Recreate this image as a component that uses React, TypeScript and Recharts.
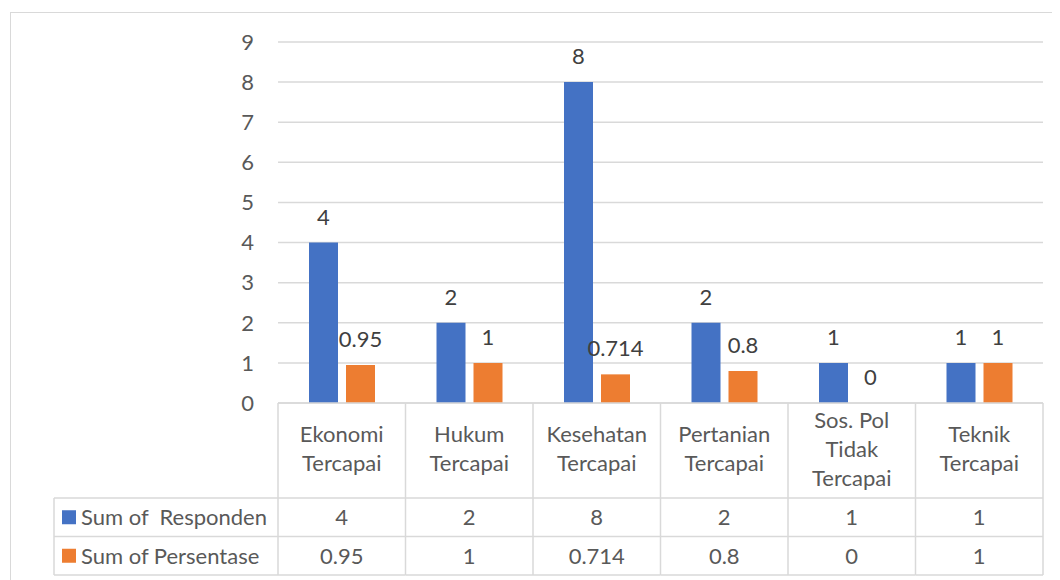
import React from "react";
import { BarChart, Bar, XAxis, YAxis, CartesianGrid, LabelList } from "recharts";

const categories = [
  "Ekonomi\nTercapai",
  "Hukum\nTercapai",
  "Kesehatan\nTercapai",
  "Pertanian\nTercapai",
  "Sos. Pol\nTidak\nTercapai",
  "Teknik\nTercapai",
];
const responden = [4, 2, 8, 2, 1, 1];
const persentase = [0.95, 1, 0.714, 0.8, 0, 1];
const seriesNames = ["Sum of  Responden", "Sum of Persentase"];
const seriesColors = ["#4472C4", "#ED7D31"];
const yTicks = [0, 1, 2, 3, 4, 5, 6, 7, 8, 9];

const data = categories.map((name, i) => ({
  name,
  responden: responden[i],
  persentase: persentase[i],
}));

const FONT = "Lato, 'Open Sans', sans-serif";
const FS = 22;
const GRID = "#d9d9d9";
const TEXT = "#595959";
const HEADER_H = 95;
const ROW_H = 38.5;
const LEGEND_W = 224;
const LINE_H = 29;

function BarLabel(props: any) {
  const { x, y, width, value } = props;
  if (x == null || y == null) return null;
  return (
    <text
      x={Number(x) + Number(width) / 2}
      y={Number(y) - 18}
      textAnchor="middle"
      fill="#404040"
      fontSize={FS}
      fontFamily={FONT}
    >
      {String(value)}
    </text>
  );
}

function TableTick(props: any) {
  const { x, y, payload, index } = props;
  const n = categories.length;
  const w = typeof props.width === "number" ? props.width : 765;
  const bw = w / n;
  const left = x - bw / 2;
  const right = x + bw / 2;
  const lines = String(payload.value).split("\n");
  const mid = y + HEADER_H / 2 - 2;
  const bottom = y + HEADER_H + ROW_H * 2;
  const values = [responden[index], persentase[index]];
  return (
    <g>
      <line x1={left} x2={left} y1={y} y2={bottom} stroke={GRID} strokeWidth={1.5} />
      {index === n - 1 && (
        <line x1={right} x2={right} y1={y} y2={bottom} stroke={GRID} strokeWidth={1.5} />
      )}
      {[1, 2, 3].map((r) => (
        <line
          key={r}
          x1={index === 0 ? left - LEGEND_W : left}
          x2={right}
          y1={y + HEADER_H + ROW_H * (r - 1)}
          y2={y + HEADER_H + ROW_H * (r - 1)}
          stroke={GRID}
          strokeWidth={1.5}
        />
      ))}
      {lines.map((ln, i) => (
        <text
          key={i}
          x={x}
          y={mid + (i - (lines.length - 1) / 2) * LINE_H + 8}
          textAnchor="middle"
          fill={TEXT}
          fontSize={FS}
          fontFamily={FONT}
        >
          {ln}
        </text>
      ))}
      {values.map((v, r) => (
        <text
          key={r}
          x={x}
          y={y + HEADER_H + ROW_H * r + ROW_H / 2 + 8}
          textAnchor="middle"
          fill={TEXT}
          fontSize={FS}
          fontFamily={FONT}
        >
          {v}
        </text>
      ))}
      {index === 0 && (
        <g>
          <line
            x1={left - LEGEND_W}
            x2={left - LEGEND_W}
            y1={y + HEADER_H}
            y2={bottom}
            stroke={GRID}
            strokeWidth={1.5}
          />
          {seriesNames.map((s, r) => (
            <g key={s}>
              <rect
                x={left - LEGEND_W + 8}
                y={y + HEADER_H + ROW_H * r + ROW_H / 2 - 7}
                width={14}
                height={14}
                fill={seriesColors[r]}
              />
              <text
                x={left - LEGEND_W + 27}
                y={y + HEADER_H + ROW_H * r + ROW_H / 2 + 8}
                fill={TEXT}
                fontSize={FS}
                fontFamily={FONT}
                style={{ whiteSpace: "pre" }}
              >
                {s}
              </text>
            </g>
          ))}
        </g>
      )}
    </g>
  );
}

export default function App() {
  return (
    <div style={{ position: "relative", width: 1052, height: 572, overflow: "hidden", background: "#fff" }}>
      <div
        style={{
          position: "absolute",
          left: 2,
          top: 4,
          width: 1200,
          height: 800,
          border: `1.5px solid ${GRID}`,
          boxSizing: "border-box",
        }}
      />
      <div style={{ position: "absolute", left: 0, top: 0 }}>
        <BarChart
          width={1052}
          height={572}
          data={data}
          margin={{ top: 34, right: 17, bottom: 0, left: 0 }}
          barSize={29}
          barGap={8}
        >
          <CartesianGrid vertical={false} stroke={GRID} strokeWidth={1.5} />
          <XAxis
            dataKey="name"
            interval={0}
            height={177}
            tickLine={false}
            tickSize={0}
            tickMargin={0}
            axisLine={{ stroke: GRID, strokeWidth: 1.5 }}
            tick={<TableTick />}
          />
          <YAxis
            domain={[0, 9]}
            ticks={yTicks}
            width={270}
            axisLine={false}
            tickLine={false}
            tickSize={0}
            tickMargin={24}
            tick={{ fill: TEXT, fontSize: FS, fontFamily: FONT }}
          />
          <Bar dataKey="responden" fill={seriesColors[0]} isAnimationActive={false} minPointSize={0.01}>
            <LabelList dataKey="responden" content={<BarLabel />} />
          </Bar>
          <Bar dataKey="persentase" fill={seriesColors[1]} isAnimationActive={false} minPointSize={0.01}>
            <LabelList dataKey="persentase" content={<BarLabel />} />
          </Bar>
        </BarChart>
      </div>
    </div>
  );
}
